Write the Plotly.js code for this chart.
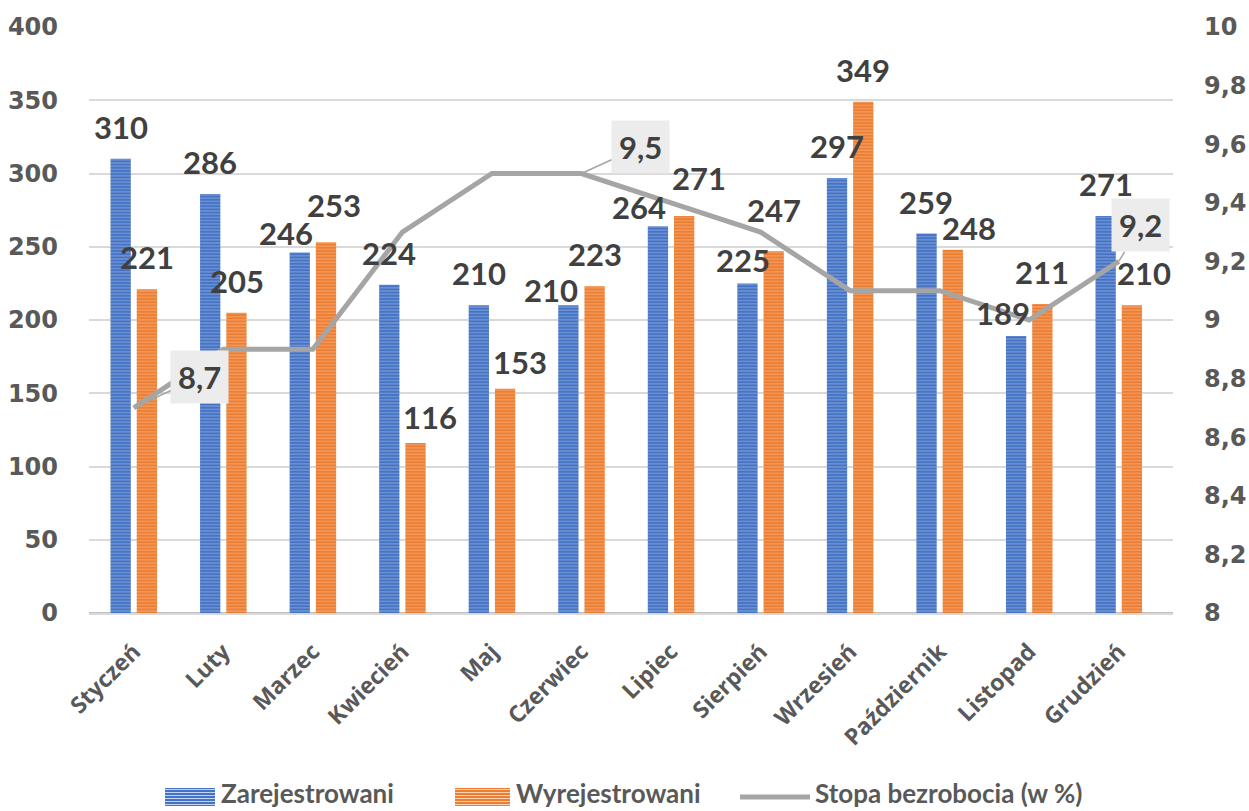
<!DOCTYPE html>
<html>
<head>
<meta charset="utf-8">
<script src="https://cdn.plot.ly/plotly-3.0.1.min.js"></script>
<style>html,body{margin:0;padding:0;background:#fff;}#chart{width:1249px;height:811px;}</style>
</head>
<body>
<div id="chart"></div>
<script>
// ---- data ----
const months = ["Styczeń","Luty","Marzec","Kwiecień","Maj","Czerwiec","Lipiec","Sierpień","Wrzesień","Październik","Listopad","Grudzień"];
const zarejestrowani = [310,286,246,224,210,210,264,225,297,259,189,271];
const wyrejestrowani = [221,205,253,116,153,223,271,247,349,248,211,210];
const stopa = [8.7,8.9,8.9,9.3,9.5,9.5,9.4,9.3,9.1,9.1,9.0,9.2];
const seriesNames = ["Zarejestrowani","Wyrejestrowani","Stopa bezrobocia (w %)"];
const stopaLabelIdx = [0,5,11];

// ---- label nudges (px) ----
const zarNudgeX = [0,0,-14,0,0,-17,-19,-4,0,0,-13,0];
const zarNudgeY = [0,0,-12,0,0,-17,-13,-9,0,0,-9,0];
const wyrNudgeX = [0,0,8,14,15,0,15,0,0,16,0,12];
const wyrNudgeY = [0,0,5,-6,-5,0,6,9,0,-10,0,0];
const stopaLabelOffset = [[66,-31],[59,-27],[22,-36]];

// ---- layout constants ----
const W = 1249, H = 811;
const M = {l:89, r:76, t:27, b:198};
const PW = W - M.l - M.r, PH = H - M.t - M.b;
const bargap = 0.414, bargroupgap = 0.226;
const catW = PW / months.length;
const barOffset = catW * (1 - bargap) / 4;
const px2x = p => (p - M.l) / PW;
const py2y = p => (H - M.b - p) / PH;

const blue = '#4472C4', orange = '#ED7D31', gray = '#A5A5A5';
const blueLight = '#c5d3f0', orangeLight = '#fbd2b6';
const labelFont = {family:'Lato, sans-serif', size:31, color:'#404040', weight:700};

const traces = [
  {type:'bar', name:seriesNames[0], x:months, y:zarejestrowani, showlegend:false,
   marker:{color:blue, line:{width:0},
     pattern:{shape:'-', fillmode:'overlay', bgcolor:blue, fgcolor:blueLight, size:3.2, solidity:0.3}},
   hoverinfo:'skip'},
  {type:'bar', name:seriesNames[1], x:months, y:wyrejestrowani, showlegend:false,
   marker:{color:orange, line:{width:0},
     pattern:{shape:'-', fillmode:'overlay', bgcolor:orange, fgcolor:orangeLight, size:3.2, solidity:0.3}},
   hoverinfo:'skip'},
  {type:'scatter', mode:'lines', name:seriesNames[2], x:months, y:stopa, yaxis:'y2', showlegend:false,
   line:{color:gray, width:5}, hoverinfo:'skip'}
];

const annotations = [];
months.forEach((m,i)=>{
  annotations.push({x:m, y:zarejestrowani[i], xref:'x', yref:'y', text:String(zarejestrowani[i]),
    showarrow:false, xanchor:'center', yanchor:'middle',
    xshift:-barOffset + zarNudgeX[i], yshift:32 + zarNudgeY[i], font:labelFont});
  annotations.push({x:m, y:wyrejestrowani[i], xref:'x', yref:'y', text:String(wyrejestrowani[i]),
    showarrow:false, xanchor:'center', yanchor:'middle',
    xshift:barOffset + wyrNudgeX[i], yshift:32 + wyrNudgeY[i], font:labelFont});
});
stopaLabelIdx.forEach((idx,k)=>{
  annotations.push({x:months[idx], y:stopa[idx], xref:'x', yref:'y2',
    text:String(stopa[idx]).replace('.',','),
    showarrow:true, arrowhead:0, arrowwidth:1.5, arrowcolor:gray, standoff:0,
    ax:stopaLabelOffset[k][0], ay:stopaLabelOffset[k][1],
    bgcolor:'#ececec', borderpad:7, font:labelFont});
});

// ---- custom legend (wide striped swatches like the original) ----
const shapes = [];
const swatchY = 797, legendTextY = 793;
const legendFont = {family:'Lato, sans-serif', size:26, color:'#595959', weight:700};
const legendItems = [
  {kind:'bar', color:blue, light:blueLight, x0:165, x1:215, tx:219, text:seriesNames[0]},
  {kind:'bar', color:orange, light:orangeLight, x0:455, x1:510, tx:514, text:seriesNames[1]},
  {kind:'line', color:gray, x0:740, x1:810, tx:813, text:seriesNames[2]}
];
legendItems.forEach(it=>{
  if (it.kind === 'bar') {
    const top = swatchY - 9, bot = swatchY + 9;
    shapes.push({type:'rect', xref:'paper', yref:'paper', x0:px2x(it.x0), x1:px2x(it.x1),
      y0:py2y(bot), y1:py2y(top), fillcolor:it.color, line:{width:0}});
    for (let yy = top + 1.5; yy < bot; yy += 3) {
      shapes.push({type:'line', xref:'paper', yref:'paper', x0:px2x(it.x0), x1:px2x(it.x1),
        y0:py2y(yy), y1:py2y(yy), line:{color:it.light, width:1}});
    }
  } else {
    shapes.push({type:'line', xref:'paper', yref:'paper', x0:px2x(it.x0), x1:px2x(it.x1),
      y0:py2y(swatchY), y1:py2y(swatchY), line:{color:it.color, width:5}});
  }
  annotations.push({xref:'paper', yref:'paper', x:px2x(it.tx), y:py2y(legendTextY), text:it.text,
    showarrow:false, xanchor:'left', yanchor:'middle', font:legendFont});
});

const tickFontY = {family:'"DejaVu Sans", sans-serif', size:24, color:'#595959', weight:700};
const layout = {
  width:W, height:H,
  margin:M,
  paper_bgcolor:'#ffffff', plot_bgcolor:'#ffffff',
  separators:', ',
  barmode:'group', bargap:bargap, bargroupgap:bargroupgap,
  showlegend:false,
  xaxis:{type:'category', tickangle:-45, showgrid:false, zeroline:false, showline:true,
    linecolor:'#d9d9d9', linewidth:2, ticks:'', ticklabelstandoff:14,
    tickfont:{family:'"Open Sans", sans-serif', size:23, color:'#595959', weight:700}},
  yaxis:{range:[0,400], dtick:50, showgrid:true, gridcolor:'#d9d9d9', gridwidth:2,
    zeroline:true, zerolinecolor:'#bfbfbf', zerolinewidth:2, ticks:'', ticklabelstandoff:30,
    tickfont:tickFontY, fixedrange:true},
  yaxis2:{range:[8,10], dtick:0.2, overlaying:'y', side:'right', showgrid:false, zeroline:false,
    ticks:'', ticklabelstandoff:30, tickfont:tickFontY, fixedrange:true},
  shapes:shapes,
  annotations:annotations
};

Plotly.newPlot('chart', traces, layout, {displayModeBar:false, staticPlot:true});
</script>
</body>
</html>
